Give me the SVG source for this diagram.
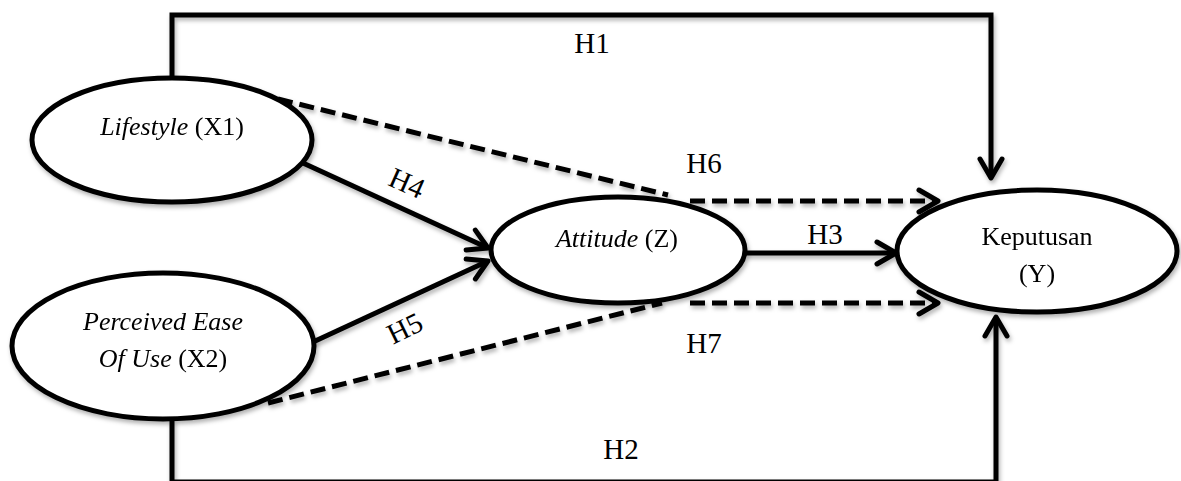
<svg xmlns="http://www.w3.org/2000/svg" width="1181" height="481" viewBox="0 0 1181 481">
<style>
.node{fill:#fff;stroke:#000;stroke-width:5}
.conn{fill:none;stroke:#000;stroke-width:5}
.dash{stroke-dasharray:15 7}
.nt{font-family:"Liberation Serif","Times New Roman",serif;font-size:26px;fill:#000;text-anchor:middle}
.hl{font-family:"Liberation Serif","Times New Roman",serif;font-size:29px;fill:#000;text-anchor:middle}
</style>
<defs>
<filter id="sh" x="-10%" y="-10%" width="120%" height="130%">
<feDropShadow dx="1.5" dy="3" stdDeviation="2" flood-color="#000" flood-opacity="0.3"/>
</filter>
<marker id="arr" markerUnits="userSpaceOnUse" viewBox="-24 -15 28 30" markerWidth="28" markerHeight="30" refX="0" refY="0" orient="auto" overflow="visible">
<path d="M-19,-11 L0,0 L-19,11" fill="none" stroke="#000" stroke-width="5" stroke-linecap="round" stroke-linejoin="round"/>
</marker>
</defs>
<rect width="1181" height="481" fill="#fff"/>
<g id="connectors" filter="url(#sh)">
<path id="c-h1" class="conn" d="M172,77 L172,15 L991,15 L991,178" marker-end="url(#arr)"/>
<path id="c-h2" class="conn" d="M172,420 L172,482 L996,482 L996,317" marker-end="url(#arr)"/>
<path id="c-h4" class="conn" d="M303,163 L488,248" marker-end="url(#arr)"/>
<path id="c-h5" class="conn" d="M313,342 L488,261" marker-end="url(#arr)"/>
<path id="c-h3" class="conn" d="M745,253 L896,253" marker-end="url(#arr)"/>
<path id="c-h6a" class="conn dash" d="M278,99 L668,195"/>
<path id="c-h6b" class="conn dash" d="M690,201 L938,201" marker-end="url(#arr)"/>
<path id="c-h7a" class="conn dash" d="M268,403 L662,303"/>
<path id="c-h7b" class="conn dash" d="M690,303 L938,303" marker-end="url(#arr)"/>
</g>
<g id="labels">
<text class="hl" x="592" y="53">H1</text>
<text class="hl" x="621" y="459">H2</text>
<text class="hl" x="825" y="244">H3</text>
<text class="hl" transform="translate(403,192) rotate(24)">H4</text>
<text class="hl" transform="translate(409,337) rotate(-26)">H5</text>
<text class="hl" x="704" y="173">H6</text>
<text class="hl" x="704" y="353">H7</text>
</g>
<g id="node-lifestyle" filter="url(#sh)">
<ellipse class="node" cx="172" cy="140" rx="140" ry="62"/>
<text class="nt" x="172" y="135"><tspan font-style="italic">Lifestyle</tspan> (X1)</text>
</g>
<g id="node-peou" filter="url(#sh)">
<ellipse class="node" cx="163" cy="346" rx="151" ry="73"/>
<text class="nt" x="163" y="330" font-style="italic">Perceived Ease</text>
<text class="nt" x="163" y="367"><tspan font-style="italic">Of Use</tspan> (X2)</text>
</g>
<g id="node-attitude" filter="url(#sh)">
<ellipse class="node" cx="618" cy="250" rx="127" ry="53"/>
<text class="nt" x="617" y="247"><tspan font-style="italic">Attitude</tspan> (Z)</text>
</g>
<g id="node-keputusan" filter="url(#sh)">
<ellipse class="node" cx="1037" cy="251" rx="140" ry="61"/>
<text class="nt" x="1037" y="245">Keputusan</text>
<text class="nt" x="1037" y="282">(Y)</text>
</g>
</svg>
